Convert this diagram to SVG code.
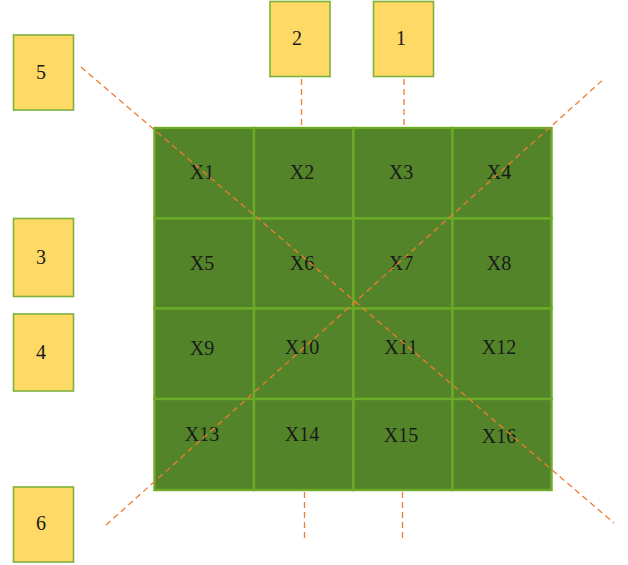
<svg xmlns="http://www.w3.org/2000/svg" width="628" height="565" viewBox="0 0 628 565">
  <style>
    .cell { fill: #538429; stroke: #6CAB27; stroke-width: 2.4; }
    .box { fill: #FFD966; stroke: #7DB23A; stroke-width: 1.6; }
    .lbl { font-family: "Liberation Serif", "Times New Roman", serif; font-size: 20px; fill: #1a1a1a; text-anchor: middle; }
    .link { stroke: #ED7D31; stroke-width: 1.3; stroke-dasharray: 6 4; fill: none; }
  </style>

  <!-- 4x4 grid of cells -->
  <g id="grid">
    <g id="X1"><rect class="cell" x="154.5" y="128" width="99.5" height="90.5"/><text class="lbl" x="202" y="178.5">X1</text></g>
    <g id="X2"><rect class="cell" x="254" y="128" width="99.5" height="90.5"/><text class="lbl" x="302" y="178.5">X2</text></g>
    <g id="X3"><rect class="cell" x="353.5" y="128" width="99" height="90.5"/><text class="lbl" x="401" y="178.5">X3</text></g>
    <g id="X4"><rect class="cell" x="452.5" y="128" width="99" height="90.5"/><text class="lbl" x="499" y="178.5">X4</text></g>

    <g id="X5"><rect class="cell" x="154.5" y="218.5" width="99.5" height="90"/><text class="lbl" x="202" y="270">X5</text></g>
    <g id="X6"><rect class="cell" x="254" y="218.5" width="99.5" height="90"/><text class="lbl" x="302" y="270">X6</text></g>
    <g id="X7"><rect class="cell" x="353.5" y="218.5" width="99" height="90"/><text class="lbl" x="401" y="270">X7</text></g>
    <g id="X8"><rect class="cell" x="452.5" y="218.5" width="99" height="90"/><text class="lbl" x="499" y="270">X8</text></g>

    <g id="X9"><rect class="cell" x="154.5" y="308.5" width="99.5" height="90.5"/><text class="lbl" x="202" y="354.5">X9</text></g>
    <g id="X10"><rect class="cell" x="254" y="308.5" width="99.5" height="90.5"/><text class="lbl" x="302" y="353.5">X10</text></g>
    <g id="X11"><rect class="cell" x="353.5" y="308.5" width="99" height="90.5"/><text class="lbl" x="401" y="353.5">X11</text></g>
    <g id="X12"><rect class="cell" x="452.5" y="308.5" width="99" height="90.5"/><text class="lbl" x="499" y="354">X12</text></g>

    <g id="X13"><rect class="cell" x="154.5" y="399" width="99.5" height="91"/><text class="lbl" x="202" y="441">X13</text></g>
    <g id="X14"><rect class="cell" x="254" y="399" width="99.5" height="91"/><text class="lbl" x="302" y="441">X14</text></g>
    <g id="X15"><rect class="cell" x="353.5" y="399" width="99" height="91"/><text class="lbl" x="401" y="441.5">X15</text></g>
    <g id="X16"><rect class="cell" x="452.5" y="399" width="99" height="91"/><text class="lbl" x="499" y="442.5">X16</text></g>
  </g>

  <!-- labelled boxes around the grid -->
  <g id="n1"><rect class="box" x="373.5" y="1.5" width="60" height="75"/><text class="lbl" x="401" y="45">1</text></g>
  <g id="n2"><rect class="box" x="270" y="1.5" width="60" height="75"/><text class="lbl" x="297" y="45">2</text></g>
  <g id="n3"><rect class="box" x="13.5" y="218.5" width="60" height="78"/><text class="lbl" x="41" y="263.5">3</text></g>
  <g id="n4"><rect class="box" x="13.5" y="314" width="60" height="77"/><text class="lbl" x="41" y="358.5">4</text></g>
  <g id="n5"><rect class="box" x="13.5" y="35" width="60" height="75"/><text class="lbl" x="41" y="78.5">5</text></g>
  <g id="n6"><rect class="box" x="13.5" y="487" width="60" height="75"/><text class="lbl" x="41" y="529.5">6</text></g>

  <!-- dashed connectors -->
  <g id="connectors">
    <line class="link" x1="81" y1="67" x2="614" y2="523"/>
    <line class="link" x1="106" y1="525" x2="605" y2="78"/>
    <line class="link" x1="301.5" y1="79" x2="301.5" y2="128"/>
    <line class="link" x1="404" y1="79" x2="404" y2="128"/>
    <line class="link" x1="304.5" y1="492" x2="304.5" y2="538"/>
    <line class="link" x1="402.5" y1="492" x2="402.5" y2="538"/>
  </g>
</svg>
